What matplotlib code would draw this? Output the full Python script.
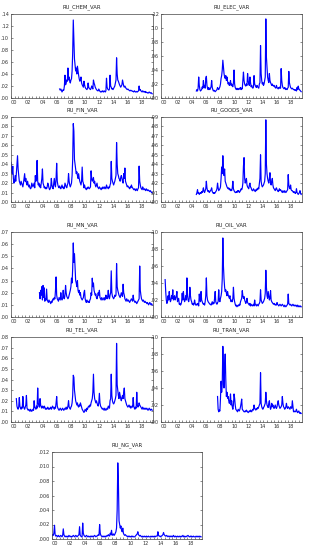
import matplotlib
matplotlib.use("Agg")
import matplotlib.pyplot as plt
import numpy as np
import pandas as pd
from matplotlib.ticker import FixedLocator, FuncFormatter

# monthly values, in units of 0.001 (NG in 0.0001)
chem_start = "2006-11"
chem = [15, 13,
        15, 13, 10, 12, 14, 13, 20, 38, 22, 25, 30, 28,
        50, 30, 35, 28, 25, 30, 32, 45, 75, 130, 100, 65,
        55, 45, 50, 40, 53, 45, 38, 32, 28, 30, 35, 25,
        22, 20, 18, 28, 22, 18, 16, 15, 14, 16, 25, 18,
        16, 15, 14, 16, 20, 18, 15, 30, 25, 22, 18, 16,
        14, 13, 12, 12, 15, 13, 11, 10, 11, 10, 12, 11,
        10, 12, 11, 10, 12, 33, 18, 15, 14, 13, 15, 38,
        20, 18, 15, 16, 14, 16, 18, 20, 25, 30, 67, 40,
        30, 28, 25, 22, 20, 18, 20, 22, 30, 25, 20, 18,
        20, 18, 16, 15, 14, 15, 14, 13, 12, 12, 13, 12,
        12, 11, 11, 10, 12, 11, 10, 10, 11, 10, 11, 12,
        20, 13, 14, 12, 11, 10, 12, 11, 10, 10, 11, 9,
        10, 9, 9, 8, 9, 10, 9, 8, 9, 8, 7]

elec_start = "2005-01"
elec = [10, 12, 10, 14, 30, 18, 12, 10, 11, 12, 16, 14,
        25, 15, 18, 14, 28, 31, 18, 14, 12, 15, 13, 12,
        14, 16, 25, 15, 12, 10, 11, 10, 9, 10, 11, 12,
        15, 13, 12, 14, 16, 20, 28, 32, 40, 54, 45, 35,
        30, 28, 32, 25, 30, 24, 20, 22, 18, 20, 25, 18,
        20, 17, 16, 22, 40, 20, 15, 13, 12, 14, 12, 13,
        12, 14, 13, 15, 12, 14, 13, 25, 37, 25, 20, 18,
        17, 20, 18, 35, 25, 20, 18, 30, 22, 16, 18, 15,
        14, 16, 32, 20, 18, 16, 15, 18, 16, 15, 14, 20,
        22, 75, 35, 25, 20, 22, 18, 20, 25, 30, 113, 58,
        43, 30, 25, 22, 35, 25, 22, 20, 18, 20, 18, 17,
        18, 16, 15, 14, 18, 15, 14, 13, 15, 14, 16, 14,
        42, 25, 18, 15, 14, 13, 15, 14, 12, 13, 12, 14,
        15, 38, 22, 18, 15, 14, 13, 14, 13, 12, 12, 11,
        12, 11, 10, 15, 12, 17, 13, 12, 11, 10, 9]

fin_start = "2000-01"
fin = [42, 35, 30, 38, 25, 20, 22, 28, 22, 30, 40, 49,
       35, 28, 22, 20, 18, 22, 20, 18, 16, 20, 25, 30,
       22, 25, 20, 18, 22, 18, 16, 18, 15, 14, 15, 20,
       18, 16, 18, 20, 15, 28, 22, 25, 44, 22, 18, 20,
       16, 18, 15, 20, 25, 35, 20, 18, 15, 16, 14, 15,
       14, 16, 20, 18, 15, 13, 14, 16, 25, 18, 15, 14,
       20, 25, 18, 16, 25, 41, 22, 18, 16, 15, 17, 15,
       14, 16, 18, 15, 16, 14, 15, 20, 18, 16, 15, 18,
       20, 30, 22, 18, 16, 18, 20, 28, 45, 83, 75, 45,
       40, 35, 30, 32, 28, 25, 30, 25, 22, 20, 18, 22,
       37, 22, 20, 15, 18, 15, 14, 13, 15, 14, 16, 15,
       14, 15, 16, 33, 25, 22, 24, 26, 20, 22, 18, 16,
       18, 20, 16, 15, 14, 16, 15, 14, 13, 15, 14, 16,
       15, 14, 16, 15, 14, 18, 16, 15, 14, 16, 15, 18,
       20, 43, 25, 22, 20, 18, 20, 22, 25, 28, 63, 40,
       30, 28, 25, 24, 22, 26, 28, 25, 22, 20, 30, 25,
       36, 22, 20, 18, 16, 17, 16, 15, 14, 16, 15, 18,
       16, 15, 14, 13, 14, 13, 12, 14, 13, 12, 14, 15,
       38, 22, 18, 15, 14, 13, 16, 14, 13, 14, 13, 12,
       14, 13, 12, 13, 12, 12, 11, 12, 11, 10, 10]

goods_start = "2005-01"
goods = [8, 10, 13, 9, 10, 8, 9, 10, 9, 11, 10, 12,
         15, 11, 10, 12, 14, 22, 15, 12, 11, 12, 10, 11,
         12, 13, 15, 11, 10, 9, 10, 9, 10, 11, 12, 14,
         20, 15, 12, 13, 14, 16, 25, 37, 30, 49, 35, 28,
         35, 22, 20, 18, 16, 15, 14, 15, 13, 14, 12, 13,
         12, 15, 22, 14, 12, 11, 10, 10, 11, 10, 12, 11,
         12, 10, 11, 12, 14, 13, 15, 20, 38, 47, 25, 20,
         22, 25, 18, 16, 15, 14, 18, 20, 16, 15, 13, 12,
         12, 14, 13, 12, 11, 13, 12, 14, 13, 15, 14, 20,
         25, 50, 22, 18, 16, 17, 18, 20, 22, 30, 87, 40,
         30, 25, 22, 20, 25, 31, 20, 18, 22, 25, 18, 15,
         14, 13, 12, 14, 15, 13, 12, 11, 12, 14, 12, 13,
         12, 11, 10, 12, 11, 10, 12, 11, 10, 11, 12, 13,
         29, 18, 15, 14, 18, 13, 12, 12, 11, 10, 11, 10,
         9, 10, 14, 10, 9, 8, 9, 10, 12, 9, 8]

mn_start = "2004-01"
mn = [20, 15, 22, 18, 25, 14, 26, 16, 24, 13, 15, 14,
      23, 14, 13, 12, 14, 13, 12, 11, 13, 12, 14, 15,
      14, 16, 15, 22, 33, 18, 15, 14, 13, 16, 15, 14,
      20, 15, 14, 15, 22, 16, 15, 18, 26, 20, 17, 16,
      15, 16, 18, 20, 22, 25, 32, 28, 40, 61, 45, 52,
      40, 30, 28, 25, 30, 22, 20, 22, 18, 20, 16, 15,
      14, 15, 16, 20, 22, 15, 13, 12, 14, 13, 12, 13,
      12, 14, 15, 20, 18, 32, 25, 28, 22, 20, 18, 19,
      16, 15, 17, 20, 18, 22, 16, 15, 14, 16, 15, 14,
      15, 16, 14, 15, 18, 16, 15, 17, 22, 16, 15, 18,
      20, 38, 20, 17, 16, 15, 16, 18, 17, 18, 44, 25,
      22, 20, 18, 17, 16, 18, 20, 18, 17, 27, 20, 18,
      15, 14, 13, 15, 14, 13, 14, 13, 12, 13, 14, 15,
      14, 13, 18, 14, 13, 12, 13, 12, 11, 12, 13, 14,
      15, 42, 22, 18, 15, 14, 13, 14, 13, 12, 13, 12,
      12, 11, 12, 11, 10, 11, 12, 11, 10, 11, 10]

oil_start = "2000-08"
oil = [44, 30, 20, 16, 18,
       25, 20, 30, 22, 18, 20, 25, 22, 32, 20, 22, 25,
       20, 22, 25, 30, 18, 20, 22, 15, 16, 14, 15, 18,
       28, 20, 30, 22, 18, 20, 25, 20, 46, 25, 20, 18,
       22, 35, 25, 20, 18, 15, 16, 14, 15, 20, 16, 14,
       15, 14, 16, 15, 13, 27, 20, 18, 30, 20, 18, 16,
       15, 16, 14, 18, 25, 46, 25, 20, 18, 17, 16, 15,
       15, 14, 16, 18, 15, 17, 16, 22, 30, 18, 16, 15,
       17, 18, 32, 20, 18, 22, 25, 30, 45, 93, 60, 45,
       35, 30, 32, 28, 25, 30, 26, 24, 22, 25, 20, 18,
       20, 18, 22, 35, 22, 18, 15, 13, 14, 12, 13, 14,
       13, 15, 14, 18, 20, 22, 31, 25, 22, 24, 20, 18,
       16, 18, 22, 17, 16, 15, 14, 16, 13, 15, 14, 13,
       14, 15, 13, 20, 15, 14, 13, 15, 14, 13, 15, 16,
       18, 32, 20, 18, 16, 17, 18, 20, 22, 28, 55, 35,
       25, 22, 30, 25, 20, 22, 31, 20, 18, 17, 16, 15,
       16, 15, 14, 15, 14, 17, 15, 14, 13, 14, 15, 14,
       13, 14, 15, 14, 13, 12, 14, 13, 12, 13, 14, 15,
       27, 16, 15, 14, 15, 14, 13, 14, 15, 14, 13, 14,
       13, 14, 13, 12, 14, 13, 12, 13, 12, 13, 12]

tel_start = "2000-10"
tel = [22, 15, 13,
       12, 14, 23, 15, 13, 12, 14, 13, 24, 15, 13, 12,
       14, 16, 25, 13, 12, 11, 12, 11, 10, 12, 11, 10,
       11, 12, 11, 20, 14, 13, 12, 15, 13, 32, 18, 15,
       14, 22, 16, 14, 13, 15, 14, 13, 15, 14, 12, 13,
       12, 13, 14, 12, 13, 12, 13, 14, 12, 13, 15, 14,
       13, 12, 14, 13, 18, 24, 15, 13, 12, 11, 12, 13,
       12, 11, 12, 13, 12, 11, 12, 13, 12, 14, 12, 13,
       15, 20, 14, 13, 12, 14, 15, 18, 25, 44, 42, 30,
       25, 20, 18, 16, 18, 15, 14, 16, 15, 18, 16, 14,
       12, 11, 10, 9, 10, 12, 11, 10, 13, 12, 14, 15,
       14, 16, 15, 18, 20, 22, 28, 45, 28, 22, 20, 18,
       20, 18, 16, 15, 18, 27, 18, 15, 14, 13, 12, 13,
       12, 11, 13, 12, 11, 12, 13, 12, 15, 14, 13, 20,
       22, 45, 25, 20, 18, 17, 18, 20, 22, 25, 74, 35,
       30, 25, 22, 28, 25, 22, 20, 23, 25, 22, 28, 32,
       22, 20, 18, 16, 15, 14, 15, 16, 14, 15, 13, 14,
       15, 14, 23, 15, 13, 12, 14, 13, 28, 16, 14, 15,
       18, 16, 15, 14, 13, 12, 14, 13, 12, 13, 12, 13,
       12, 13, 12, 11, 12, 13, 12, 11, 12, 12, 11]

tran_start = "2008-01"
tran = [30, 15, 12, 14, 13, 28, 48, 35, 45, 89, 60, 40,
        65, 80, 50, 30, 35, 28, 30, 25, 22, 25, 33, 20,
        25, 18, 15, 20, 33, 28, 20, 15, 14, 13, 12, 15,
        14, 13, 15, 18, 22, 27, 15, 14, 13, 12, 12, 13,
        12, 14, 13, 12, 11, 12, 13, 12, 14, 13, 12, 14,
        15, 14, 20, 16, 15, 14, 16, 15, 17, 16, 18, 20,
        22, 58, 22, 18, 16, 15, 17, 18, 20, 22, 35, 25,
        20, 18, 17, 22, 25, 18, 15, 17, 22, 18, 20, 17,
        16, 18, 20, 17, 16, 18, 22, 25, 20, 18, 16, 17,
        18, 20, 30, 22, 18, 17, 15, 16, 18, 22, 17, 16,
        18, 17, 16, 15, 18, 17, 16, 25, 18, 12, 13, 12,
        12, 13, 15, 12, 11, 12, 13, 11, 10, 11, 10]

ng_start = "2000-01"
ng = [4, 6, 5, 8, 19, 6, 4, 5, 4, 3, 5, 4,
      3, 4, 5, 4, 3, 5, 14, 6, 4, 3, 4, 3,
      4, 3, 3, 5, 4, 3, 4, 3, 3, 4, 5, 4,
      3, 4, 5, 4, 3, 4, 5, 6, 17, 5, 4, 3,
      3, 22, 8, 5, 4, 3, 4, 5, 4, 3, 4, 3,
      3, 4, 3, 4, 3, 4, 3, 4, 5, 4, 3, 4,
      4, 5, 6, 5, 20, 8, 5, 4, 3, 4, 3, 4,
      3, 4, 3, 4, 5, 4, 6, 5, 4, 8, 6, 12,
      5, 6, 7, 5, 6, 8, 10, 15, 40, 105, 77, 25,
      20, 15, 18, 12, 10, 15, 8, 6, 5, 6, 5, 4,
      4, 3, 4, 3, 4, 3, 3, 4, 3, 4, 3, 3,
      3, 4, 5, 6, 7, 10, 6, 5, 4, 5, 4, 3,
      3, 4, 3, 3, 4, 3, 3, 4, 3, 3, 4, 3,
      3, 3, 4, 3, 3, 4, 3, 3, 4, 3, 4, 4,
      4, 10, 5, 4, 4, 3, 4, 4, 5, 6, 9, 6,
      5, 4, 4, 5, 4, 3, 4, 4, 3, 4, 3, 4,
      3, 4, 5, 3, 3, 4, 3, 3, 4, 3, 3, 4,
      3, 3, 4, 3, 4, 5, 3, 3, 4, 3, 3, 4,
      4, 5, 4, 3, 3, 4, 3, 4, 3, 3, 4, 3,
      3, 3, 4, 3, 3, 4, 3, 3, 4, 3, 3]

titles = ["RU_CHEM_VAR", "RU_ELEC_VAR", "RU_FIN_VAR", "RU_GOODS_VAR",
          "RU_MN_VAR", "RU_OIL_VAR", "RU_TEL_VAR", "RU_TRAN_VAR", "RU_NG_VAR"]
series = [(chem_start, chem, 1e-3), (elec_start, elec, 1e-3), (fin_start, fin, 1e-3),
          (goods_start, goods, 1e-3), (mn_start, mn, 1e-3), (oil_start, oil, 1e-3),
          (tel_start, tel, 1e-3), (tran_start, tran, 1e-3), (ng_start, ng, 1e-4)]
y_tops = [0.14, 0.12, 0.09, 0.09, 0.07, 0.10, 0.08, 0.10, 0.012]
y_steps = [0.02, 0.02, 0.01, 0.01, 0.01, 0.02, 0.01, 0.02, 0.002]
y_decimals = [2, 2, 2, 2, 2, 2, 2, 2, 3]
year_labels = ["00", "02", "04", "06", "08", "10", "12", "14", "16", "18"]

W, H = 309, 550
# axes boxes in pixels: left, top, right, bottom
boxes = [(11, 14, 153, 98), (161, 14, 302, 98),
         (11, 117, 153, 202), (161, 117, 302, 202),
         (11, 232, 153, 317), (161, 232, 302, 317),
         (11, 337, 153, 422), (161, 337, 302, 422),
         (52, 452, 202, 539)]


def to_years(start, n):
    dates = pd.date_range(start, periods=n, freq="MS")
    return dates.year + (dates.month - 1) / 12.0


def strip_zero(decimals):
    def fmt(v, _pos):
        return f"{v:.{decimals}f}".lstrip("0")
    return fmt


fig = plt.figure(figsize=(W / 100, H / 100), dpi=100)
plt.rcParams["font.family"] = "DejaVu Sans"

for i, (title, (start, vals, unit)) in enumerate(zip(titles, series)):
    l, t, r, b = boxes[i]
    ax = fig.add_axes([l / W, 1 - b / H, (r - l) / W, (b - t) / H])
    x = to_years(start, len(vals))
    ax.plot(x, np.array(vals) * unit, color="#0000ff", lw=0.85)
    ax.set_xlim(2000, 2019.95)
    ax.set_ylim(0, y_tops[i])
    yt = np.arange(0, y_tops[i] + y_steps[i] / 2, y_steps[i])
    ax.yaxis.set_major_locator(FixedLocator(yt))
    ax.yaxis.set_major_formatter(FuncFormatter(strip_zero(y_decimals[i])))
    ax.set_xticks([2000.4 + 2 * k for k in range(10)])
    ax.set_xticklabels(year_labels)
    ax.xaxis.set_minor_locator(FixedLocator(np.arange(2000, 2020, 0.5)))
    ax.tick_params(axis="both", which="both", direction="in", labelsize=3.6,
                   length=1.5, width=0.4, pad=1.5, colors="#333333")
    ax.tick_params(axis="x", which="major", length=0)
    ax.tick_params(axis="x", which="minor", length=1.2)
    ax.tick_params(axis="y", right=True)
    for sp in ax.spines.values():
        sp.set_linewidth(0.5)
        sp.set_color("#444444")
    ax.set_title(title, fontsize=3.8, pad=4, color="#222222")

fig.savefig("out.png", dpi=100)
